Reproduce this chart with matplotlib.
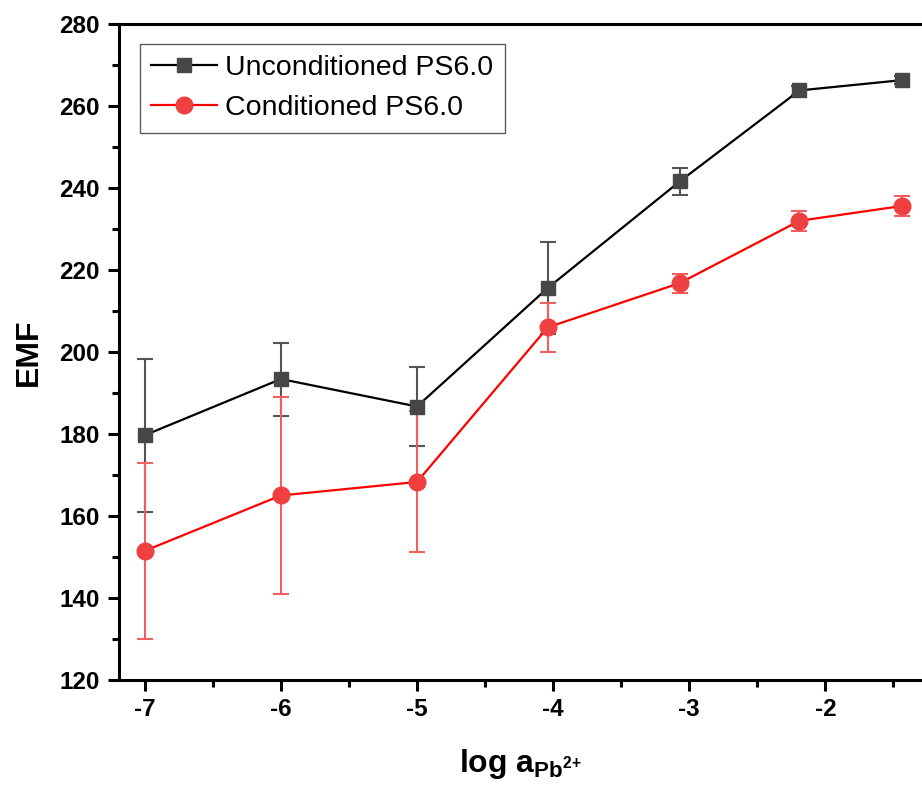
import matplotlib.pyplot as plt
from matplotlib.ticker import MultipleLocator

plt.rcParams["font.family"] = ["Liberation Sans", "DejaVu Sans"]
plt.rcParams["axes.unicode_minus"] = False
plt.rcParams["mathtext.fontset"] = "custom"
plt.rcParams["mathtext.rm"] = "Liberation Sans:bold"
plt.rcParams["mathtext.bf"] = "Liberation Sans:bold"

# data
log_a = [-7.0, -6.0, -5.0, -4.04, -3.07, -2.19, -1.44]
emf_uncond = [179.7, 193.4, 186.7, 215.6, 241.6, 263.8, 266.3]
err_uncond = [18.7, 8.9, 9.6, 11.3, 3.2, 1.0, 1.0]
emf_cond = [151.5, 165.0, 168.3, 206.0, 216.8, 232.0, 235.6]
err_cond = [21.5, 24.0, 17.2, 6.0, 2.3, 2.5, 2.5]

fig = plt.figure(figsize=(9.22, 7.87), dpi=100)
ax = fig.add_axes([0.129, 0.136, 0.871, 0.8335])

eb1 = ax.errorbar(log_a, emf_uncond, yerr=err_uncond, color="black", lw=1.6,
                  marker="s", ms=10, mfc="#474747", mec="#474747",
                  ecolor="#555555", elinewidth=1.5, capsize=6, capthick=1.5,
                  zorder=3)
eb2 = ax.errorbar(log_a, emf_cond, yerr=err_cond, color="#ff0000", lw=1.6,
                  marker="o", ms=12, mfc="#ee4040", mec="#ee4040",
                  ecolor="#f06060", elinewidth=1.5, capsize=6, capthick=1.5,
                  zorder=3)

ax.set_xlim(-7.19, -1.29)
ax.set_ylim(120, 280)
ax.xaxis.set_major_locator(MultipleLocator(1))
ax.xaxis.set_minor_locator(MultipleLocator(0.5))
ax.yaxis.set_major_locator(MultipleLocator(20))
ax.yaxis.set_minor_locator(MultipleLocator(10))

for side in ["left", "bottom", "top"]:
    ax.spines[side].set_linewidth(2.2)
ax.spines["right"].set_visible(False)
ax.tick_params(which="major", direction="out", length=8, width=2.2,
               labelsize=17.5, top=False, right=False)
ax.tick_params(which="minor", direction="out", length=5, width=2.2,
               top=False, right=False)
for lab in ax.get_xticklabels() + ax.get_yticklabels():
    lab.set_fontweight("bold")
ax.tick_params(axis="x", pad=5)
ax.tick_params(axis="y", pad=6)

ax.set_ylabel("EMF", fontsize=23, fontweight="bold", labelpad=11)
ax.set_xlabel(r"log a$_{\mathrm{Pb}^{\mathrm{2{+}}}}$", fontsize=23,
              fontweight="bold", labelpad=19)

leg = ax.legend([eb1.lines[0], eb2.lines[0]],
                ["Unconditioned PS6.0", "Conditioned PS6.0"],
                loc="upper left", bbox_to_anchor=(0.026, 0.97), fontsize=20.5,
                frameon=True, fancybox=False, edgecolor="#333333",
                handlelength=2.3, handletextpad=0.3, borderpad=0.4,
                borderaxespad=0, labelspacing=0.5)
leg.get_frame().set_linewidth(1.0)

fig.savefig("out.png", dpi=100)
